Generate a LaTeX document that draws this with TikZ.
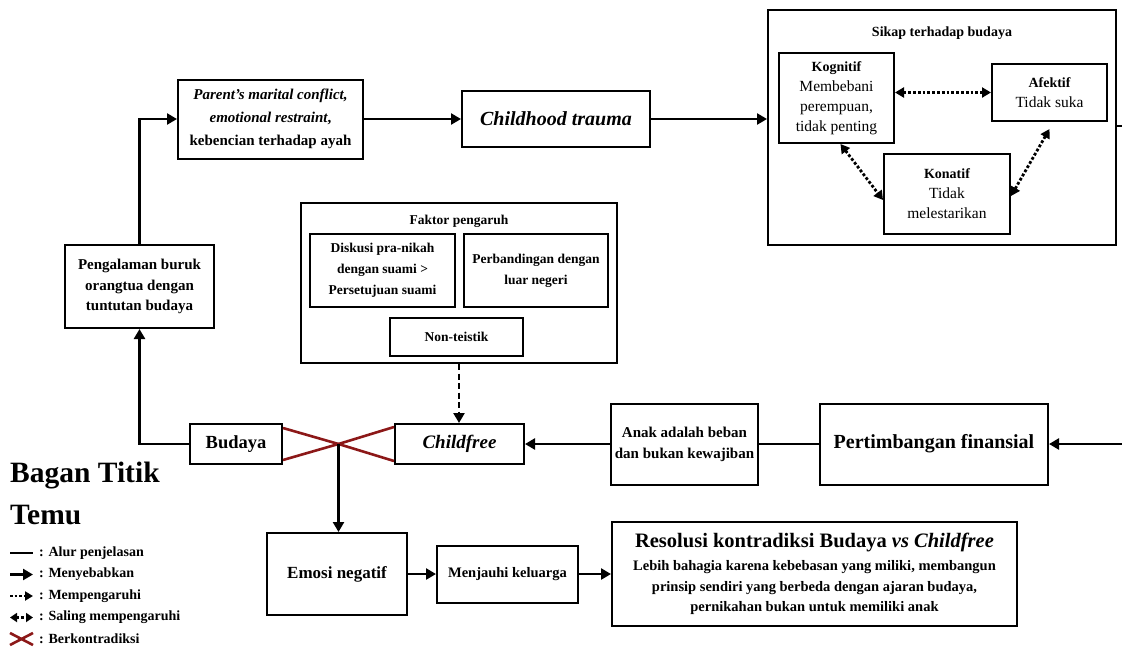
\documentclass[tikz,border=0pt]{standalone}
\usepackage{fontspec}
\setmainfont{Liberation Serif}
\usetikzlibrary{arrows.meta,positioning}
\definecolor{contrared}{RGB}{140,24,24}
\newcommand{\fsize}[2]{\fontsize{#1}{#2}\selectfont}

\begin{document}
\begin{tikzpicture}[
  x=1pt,y=-1pt,
  box/.style={draw,line width=2pt,fill=white,align=center,inner sep=1pt},
  group/.style={draw,line width=2pt,inner sep=0pt},
  edge/.style={-{Triangle[length=10pt,width=11pt]},line width=2.8pt},
  link/.style={line width=2.8pt},
  infl/.style={-{Triangle[length=10pt,width=11pt]},line width=2.8pt,dash pattern=on 6pt off 3.5pt},
  legdot/.style={-{Triangle[length=8pt,width=9pt]},line width=2.6pt,dotted},
  mutual/.style={{Triangle[length=9pt,width=10pt]}-{Triangle[length=9pt,width=10pt]},line width=2.8pt,dotted},
  legmutual/.style={{Triangle[length=7pt,width=9pt]}-{Triangle[length=7pt,width=9pt]},line width=2.6pt,dotted},
  contra/.style={line width=2.6pt,draw=contrared},
  legtext/.style={anchor=west,inner sep=0pt,font=\fsize{14}{16}\bfseries},
]
\useasboundingbox (0,0) rectangle (1122,648);

% top row
\node[box,minimum width=185pt,minimum height=79pt,font=\fsize{15}{23}\bfseries] (parent) at (270.5,119) {\textit{Parent’s marital conflict,}\\\textit{emotional restraint},\\kebencian terhadap ayah};
\node[box,minimum width=188pt,minimum height=56pt,font=\fsize{20}{24}\bfseries\itshape] (trauma) at (556,119) {Childhood trauma};

% sikap terhadap budaya
\node[group,minimum width=348pt,minimum height=235pt] (sikap) at (942,127.5) {};
\node[font=\fsize{14}{17}\bfseries] (sikaptitle) at (942,33) {Sikap terhadap budaya};
\node[box,minimum width=115pt,minimum height=90pt,font=\fsize{15.5}{20}] (kognitif) at (836.5,98) {{\bfseries\fsize{14}{20}Kognitif}\\Membebani\\perempuan,\\tidak penting};
\node[box,minimum width=115pt,minimum height=57pt,font=\fsize{15.5}{20}] (afektif) at (1049.5,92.5) {{\bfseries\fsize{14}{20}Afektif}\\Tidak suka};
\node[box,minimum width=126pt,minimum height=80pt,font=\fsize{15.5}{20}] (konatif) at (947,194) {{\bfseries\fsize{14}{20}Konatif}\\Tidak\\melestarikan};

% faktor pengaruh
\node[group,minimum width=316pt,minimum height=160pt] (faktor) at (459,283) {};
\node[font=\fsize{13.5}{16}\bfseries] (faktortitle) at (459,221) {Faktor pengaruh};
\node[box,minimum width=145pt,minimum height=73pt,font=\fsize{13.5}{21}\bfseries] (diskusi) at (382.5,270.5) {Diskusi pra-nikah\\dengan suami >\\Persetujuan suami};
\node[box,minimum width=144pt,minimum height=73pt,font=\fsize{13.5}{21}\bfseries] (banding) at (536,270.5) {Perbandingan dengan\\luar negeri};
\node[box,minimum width=133pt,minimum height=38pt,font=\fsize{13.5}{16}\bfseries] (teistik) at (456.5,337) {Non-teistik};

% middle row
\node[box,minimum width=149pt,minimum height=83pt,font=\fsize{15}{20.5}\bfseries] (pengalaman) at (139.5,286.5) {Pengalaman buruk\\orangtua dengan\\tuntutan budaya};
\node[box,minimum width=92pt,minimum height=40pt,font=\fsize{18.5}{22}\bfseries] (budaya) at (236,444) {Budaya};
\node[box,minimum width=129pt,minimum height=40pt,font=\fsize{19}{22}\bfseries\itshape] (childfree) at (459.5,444) {Childfree};
\node[box,minimum width=147pt,minimum height=81pt,font=\fsize{15}{21}\bfseries] (beban) at (684.5,444) {Anak adalah beban\\dan bukan kewajiban};
\node[box,minimum width=228pt,minimum height=81pt,font=\fsize{20}{24}\bfseries] (finansial) at (934,444) {Pertimbangan finansial};
\coordinate (edgeR) at (1122,444);
\coordinate (outR) at (1122,126);
\coordinate (cross) at (338.5,444);

% bottom row
\node[box,minimum width=140pt,minimum height=82pt,font=\fsize{17}{20}\bfseries] (emosi) at (337,574) {Emosi negatif};
\node[box,minimum width=141pt,minimum height=57pt,font=\fsize{14.5}{18}\bfseries] (menjauhi) at (507.5,574) {Menjauhi keluarga};
\node[box,minimum width=405pt,minimum height=104pt,font=\fsize{14.5}{20.5}\bfseries] (resolusi) at (814.5,574) {{\fsize{20.5}{24}Resolusi kontradiksi Budaya \textit{vs Childfree}}\\[3pt]Lebih bahagia karena kebebasan yang miliki, membangun\\prinsip sendiri yang berbeda dengan ajaran budaya,\\pernikahan bukan untuk memiliki anak};

% connectors
\draw[edge] (parent) -- (trauma);
\draw[edge] (trauma.east) -- (trauma.east -| sikap.west);
\draw[link] (sikap.east |- outR) -- (outR);
\draw[mutual] (afektif.west -| kognitif.east) -- (afektif.west);
\draw[mutual] ([xshift=4pt]kognitif.south) -- ([yshift=-6pt]konatif.west);
\draw[mutual] ([yshift=-2pt]konatif.east) -- ([yshift=-7pt]afektif.south);
\draw[infl] (faktor.south) -- (faktor.south |- childfree.north);
\draw[edge] (edgeR) -- (finansial.east);
\draw[link] (finansial) -- (beban);
\draw[edge] (beban) -- (childfree);
\draw[edge] (budaya.west) -| (pengalaman.south);
\draw[edge] (pengalaman.north) |- (parent.west);
\draw[contra] ([yshift=-5pt]budaya.north east) -- (cross) -- ([yshift=4pt]childfree.south west);
\draw[contra] ([yshift=5pt]budaya.south east) -- (cross) -- ([yshift=-4pt]childfree.north west);
\draw[edge] (cross) -- (cross |- emosi.north);
\draw[edge] (emosi) -- (menjauhi);
\draw[edge] (menjauhi) -- (resolusi);

% legend
\node[anchor=north west,inner sep=0pt,align=left,font=\fsize{29.5}{42}\bfseries] (legtitle) at (10,462) {Bagan Titik\\Temu};
\foreach \sty/\lbl [count=\i] in {link/Alur penjelasan,edge/Menyebabkan,legdot/Mempengaruhi,legmutual/Saling mempengaruhi}{
  \coordinate (ls\i) at (10,531.5+21.5*\i);
  \coordinate (le\i) at (33,531.5+21.5*\i);
  \draw[\sty] (ls\i) -- (le\i);
  \node[legtext] (leg\i) at (39,531.5+21.5*\i) {: \lbl};
}
\coordinate (lx1) at (10,633);
\coordinate (lx2) at (33,645);
\coordinate (lx3) at (10,645);
\coordinate (lx4) at (33,633);
\draw[contra] (lx1) -- (lx2);
\draw[contra] (lx3) -- (lx4);
\node[legtext] (leg5) at (39,639) {: Berkontradiksi};
\end{tikzpicture}
\end{document}
